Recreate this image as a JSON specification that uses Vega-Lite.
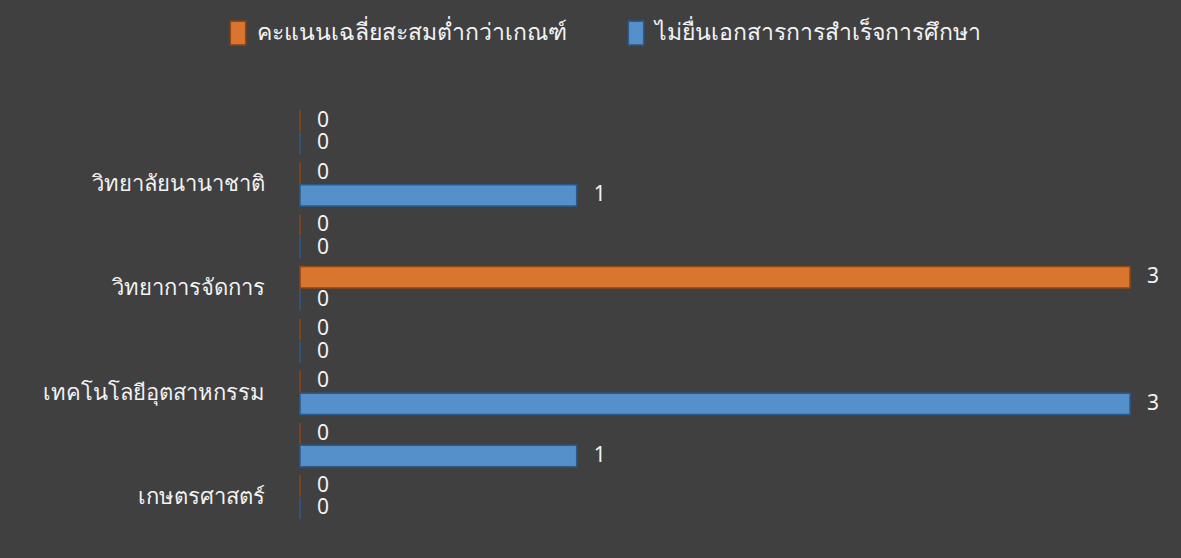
{
  "$schema": "https://vega.github.io/schema/vega-lite/v6.json",
  "autosize": {"type": "none"},
  "padding": {"left": 300, "top": 106, "right": 51, "bottom": 35},
  "width": 830,
  "height": 417,
  "background": "#404040",
  "config": {
    "view": {"stroke": null},
    "font": "Noto Sans",
    "text": {"font": "Noto Sans"}
  },
  "data": {
    "values": [
      {"faculty": "    ", "series": "คะแนนเฉลี่ยสะสมต่ำกว่าเกณฑ์", "value": 0},
      {"faculty": "    ", "series": "ไม่ยื่นเอกสารการสำเร็จการศึกษา", "value": 0},
      {"faculty": "วิทยาลัยนานาชาติ", "series": "คะแนนเฉลี่ยสะสมต่ำกว่าเกณฑ์", "value": 0},
      {"faculty": "วิทยาลัยนานาชาติ", "series": "ไม่ยื่นเอกสารการสำเร็จการศึกษา", "value": 1},
      {"faculty": "   ", "series": "คะแนนเฉลี่ยสะสมต่ำกว่าเกณฑ์", "value": 0},
      {"faculty": "   ", "series": "ไม่ยื่นเอกสารการสำเร็จการศึกษา", "value": 0},
      {"faculty": "วิทยาการจัดการ", "series": "คะแนนเฉลี่ยสะสมต่ำกว่าเกณฑ์", "value": 3},
      {"faculty": "วิทยาการจัดการ", "series": "ไม่ยื่นเอกสารการสำเร็จการศึกษา", "value": 0},
      {"faculty": "  ", "series": "คะแนนเฉลี่ยสะสมต่ำกว่าเกณฑ์", "value": 0},
      {"faculty": "  ", "series": "ไม่ยื่นเอกสารการสำเร็จการศึกษา", "value": 0},
      {"faculty": "เทคโนโลยีอุตสาหกรรม", "series": "คะแนนเฉลี่ยสะสมต่ำกว่าเกณฑ์", "value": 0},
      {"faculty": "เทคโนโลยีอุตสาหกรรม", "series": "ไม่ยื่นเอกสารการสำเร็จการศึกษา", "value": 3},
      {"faculty": " ", "series": "คะแนนเฉลี่ยสะสมต่ำกว่าเกณฑ์", "value": 0},
      {"faculty": " ", "series": "ไม่ยื่นเอกสารการสำเร็จการศึกษา", "value": 1},
      {"faculty": "เกษตรศาสตร์", "series": "คะแนนเฉลี่ยสะสมต่ำกว่าเกณฑ์", "value": 0},
      {"faculty": "เกษตรศาสตร์", "series": "ไม่ยื่นเอกสารการสำเร็จการศึกษา", "value": 0}
    ]
  },
  "encoding": {
    "y": {
      "field": "faculty",
      "type": "nominal",
      "sort": ["    ", "วิทยาลัยนานาชาติ", "   ", "วิทยาการจัดการ", "  ", "เทคโนโลยีอุตสาหกรรม", " ", "เกษตรศาสตร์"],
      "scale": {"paddingInner": 0.16, "paddingOuter": 0.08},
      "axis": {
        "title": null,
        "domain": false,
        "ticks": false,
        "labelPadding": 36,
        "labelFontSize": 22,
        "labelLimit": 400,
        "labelColor": "#F2F2F2",
        "labelFont": "Noto Sans"
      }
    },
    "yOffset": {
      "field": "series",
      "type": "nominal",
      "sort": ["คะแนนเฉลี่ยสะสมต่ำกว่าเกณฑ์", "ไม่ยื่นเอกสารการสำเร็จการศึกษา"],
      "scale": {"paddingInner": 0.05}
    },
    "x": {
      "field": "value",
      "type": "quantitative",
      "scale": {"domain": [0, 3]},
      "axis": null
    }
  },
  "layer": [
    {
      "mark": {"type": "bar", "strokeWidth": 1.5},
      "encoding": {
        "color": {
          "field": "series",
          "type": "nominal",
          "scale": {
            "domain": ["คะแนนเฉลี่ยสะสมต่ำกว่าเกณฑ์", "ไม่ยื่นเอกสารการสำเร็จการศึกษา"],
            "range": ["#D8752F", "#5590CB"]
          },
          "legend": {
            "title": null,
            "orient": "none",
            "direction": "horizontal",
            "legendX": -75,
            "legendY": -86,
            "symbolType": "M-0.65,-1H0.65V1H-0.65Z",
            "symbolSize": 560,
            "symbolStrokeWidth": 1.5,
            "symbolOpacity": 1,
            "labelFontSize": 23,
            "labelColor": "#F2F2F2",
            "labelFont": "Noto Sans",
            "columnPadding": 56,
            "labelOffset": 6,
            "labelLimit": 500
          }
        },
        "stroke": {
          "field": "series",
          "type": "nominal",
          "scale": {
            "domain": ["คะแนนเฉลี่ยสะสมต่ำกว่าเกณฑ์", "ไม่ยื่นเอกสารการสำเร็จการศึกษา"],
            "range": ["#8E4413", "#2A5A8C"]
          },
          "legend": null
        }
      }
    },
    {
      "mark": {"type": "text", "align": "left", "baseline": "middle", "dx": 17, "fontSize": 21, "color": "#F2F2F2", "font": "Noto Sans"},
      "encoding": {
        "text": {"field": "value", "type": "quantitative"}
      }
    }
  ]
}
